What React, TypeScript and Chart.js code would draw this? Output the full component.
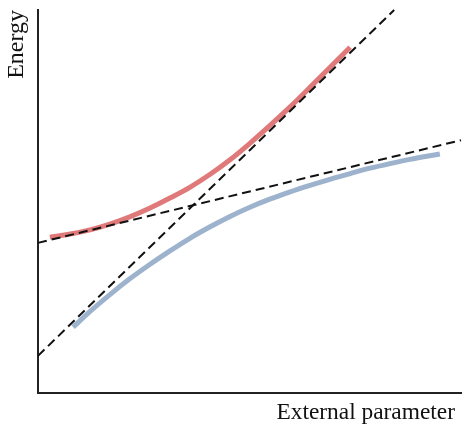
import React, { useEffect, useRef } from "react";
import { Chart, registerables } from "chart.js";

Chart.register(...registerables);

// Upper adiabatic branch (red)
const upperX = [0.28, 0.76, 1.23, 1.70, 2.17, 2.65, 3.12, 3.59, 4.07, 4.54, 5.01, 5.48, 5.96, 6.43, 6.90, 7.38];
const upperY = [4.07, 4.15, 4.26, 4.41, 4.60, 4.83, 5.09, 5.37, 5.71, 6.09, 6.52, 6.98, 7.47, 7.98, 8.50, 9.03];

// Lower adiabatic branch (blue)
const lowerX = [0.83, 1.23, 1.70, 2.17, 2.65, 3.12, 3.59, 4.07, 4.54, 5.01, 5.48, 5.96, 6.43, 6.90, 7.38, 7.85, 8.32, 8.79, 9.50];
const lowerY = [1.72, 2.13, 2.57, 2.98, 3.36, 3.71, 4.04, 4.34, 4.61, 4.85, 5.06, 5.25, 5.42, 5.58, 5.73, 5.87, 5.99, 6.10, 6.24];

// Diabatic (crossing) states, dashed
const steepX = [0, 8.42];
const steepY = [0.97, 10.0];
const shallowX = [0, 10.0];
const shallowY = [3.92, 6.60];

const xTitle = "External parameter";
const yTitle = "Energy";

const pts = (xs: number[], ys: number[]) => xs.map((x, i) => ({ x, y: ys[i] }));

const FONT = "'Liberation Serif', 'Times New Roman', serif";

const titlesPlugin = {
  id: "axisTitles",
  afterDraw(chart: any) {
    const { ctx, chartArea } = chart;
    ctx.save();
    ctx.fillStyle = "#111111";
    // x-axis title, right aligned under the axis end
    ctx.font = `23.4px ${FONT}`;
    ctx.textAlign = "right";
    ctx.textBaseline = "alphabetic";
    ctx.fillText(xTitle, chartArea.right - 6, chartArea.bottom + 25.5);
    // y-axis title, rotated, at the top of the axis
    ctx.translate(chartArea.left - 15, chartArea.top);
    ctx.rotate(-Math.PI / 2);
    ctx.font = `24px ${FONT}`;
    ctx.textAlign = "right";
    ctx.textBaseline = "alphabetic";
    ctx.fillText(yTitle, 0, 0);
    ctx.restore();
  },
};

export default function App() {
  const ref = useRef<HTMLCanvasElement>(null);
  useEffect(() => {
    if (!ref.current) return;
    const dashed = {
      borderColor: "#111111",
      borderWidth: 2,
      borderDash: [9, 5],
      pointRadius: 0,
      tension: 0,
      fill: false,
      clip: false as const,
    };
    const curve = {
      borderWidth: 5,
      pointRadius: 0,
      tension: 0.4,
      cubicInterpolationMode: "monotone" as const,
      borderCapStyle: "butt" as const,
      fill: false,
    };
    const chart = new Chart(ref.current, {
      type: "line",
      data: {
        datasets: [
          { ...dashed, data: pts(steepX, steepY) },
          { ...dashed, data: pts(shallowX, shallowY) },
          { ...curve, data: pts(upperX, upperY), borderColor: "rgb(224,122,122)" },
          { ...curve, data: pts(lowerX, lowerY), borderColor: "rgb(157,179,205)" },
        ],
      },
      options: {
        animation: false,
        responsive: false,
        maintainAspectRatio: false,
        layout: { padding: { top: 10, right: 2, left: 38, bottom: 31 } },
        plugins: { legend: { display: false }, tooltip: { enabled: false } },
        scales: {
          x: {
            type: "linear",
            min: 0,
            max: 10,
            ticks: { display: false },
            grid: { display: false, drawTicks: false },
            border: { display: true, color: "#222222", width: 2 },
            title: { display: false },
          },
          y: {
            type: "linear",
            min: 0,
            max: 10,
            ticks: { display: false },
            grid: { display: false, drawTicks: false },
            border: { display: true, color: "#222222", width: 2 },
            title: { display: false },
          },
        },
      },
      plugins: [titlesPlugin],
    });
    return () => chart.destroy();
  }, []);
  return (
    <div style={{ position: "absolute", left: 0, top: 0, width: 463, height: 424, background: "#fff" }}>
      <canvas ref={ref} width={463} height={424} style={{ display: "block" }} />
    </div>
  );
}
